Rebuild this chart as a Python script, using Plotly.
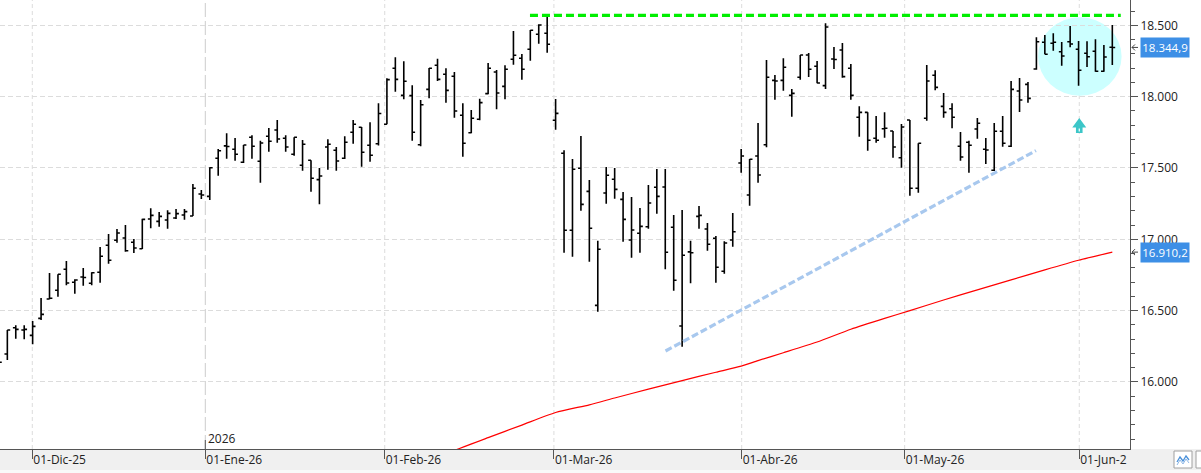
import plotly.graph_objects as go

# ---------------- data ----------------
bar_index = list(range(133))

opens = [16150, 16196, 16380, 16364, 16327, 16446, 16582, 16643, 16790, 16699,
         16736, 16692, 16769, 16958, 16993, 17009, 16979, 16934, 17142, 17126,
         17135, 17149, 17170, 17163, 17318, 17301, 17568, 17655, 17631, 17540,
         17715, 17547, 17722, 17766, 17708, 17596, 17519, 17554, 17418, 17647,
         17624, 17568, 17750, 17785, 17659, 17670, 17806, 18199, 18009, 18007,
         17663, 18051, 18220, 18157, 18143, 17869, 17747, 17841, 18021, 18173,
         18072, 18262, 18269, 18332, 18437, 18444, 17834, 17603, 17063, 17498,
         17336, 16537, 17325, 17421, 17280, 16995, 17042, 17088, 17365, 17367,
         17084, 16392, 16912, 17161, 17072, 17007, 16776, 16995, 17535, 17311,
         17584, 17663, 18114, 18114, 18009, 18136, 18292, 18213, 18077, 18264,
         18327, 18199, 17855, 17890, 17708, 17775, 17759, 17572, 17836, 17358,
         17848, 18150, 17932, 17915, 17652, 17680, 17773, 17631, 17484, 17757,
         17652, 18040, 18086, 18194, 18381, 18374, 18315, 18385, 18332, 18304,
         18318, 18178, 18346]

highs = [16180, 16364, 16397, 16397, 16427, 16589, 16764, 16755, 16848, 16720,
         16799, 16769, 16946, 17037, 17072, 17100, 17002, 17144, 17217, 17191,
         17203, 17212, 17212, 17388, 17346, 17505, 17633, 17743, 17710, 17661,
         17729, 17691, 17780, 17836, 17729, 17715, 17696, 17554, 17500, 17701,
         17647, 17722, 17836, 17787, 17820, 17953, 18128, 18276, 18248, 18079,
         17976, 18201, 18266, 18199, 18173, 17953, 17906, 17986, 18236, 18187,
         18220, 18460, 18299, 18467, 18507, 18560, 17983, 17624, 17563, 17724,
         17416, 16990, 17507, 17500, 17332, 17297, 17219, 17381, 17493, 17493,
         17170, 17205, 16990, 17233, 17114, 17023, 16986, 17184, 17633, 17563,
         17815, 18257, 18152, 18269, 18053, 18292, 18306, 18250, 18514, 18348,
         18376, 18229, 17932, 17890, 17864, 17890, 17759, 17808, 17836, 17673,
         18222, 18185, 18025, 17953, 17752, 17691, 17850, 17710, 17815, 17864,
         18110, 18131, 18103, 18416, 18432, 18444, 18383, 18495, 18390, 18388,
         18402, 18362, 18502]

lows = [16100, 16154, 16303, 16299, 16264, 16434, 16580, 16598, 16678, 16619,
        16675, 16678, 16696, 16829, 16976, 16913, 16904, 16932, 17077, 17088,
        17074, 17142, 17137, 17163, 17283, 17276, 17446, 17565, 17551, 17535,
        17565, 17397, 17614, 17677, 17614, 17586, 17481, 17334, 17245, 17488,
        17481, 17563, 17670, 17509, 17544, 17657, 17806, 18035, 17981, 17691,
        17652, 17988, 18110, 17958, 17852, 17579, 17743, 17834, 18016, 17911,
        17981, 18224, 18119, 18252, 18371, 18308, 17768, 16906, 16878, 17200,
        16843, 16493, 17250, 17285, 16983, 16871, 16906, 17074, 17180, 16790,
        16640, 16247, 16692, 17074, 16920, 16696, 16759, 16948, 17467, 17235,
        17397, 17645, 17978, 18042, 17859, 18119, 18138, 18093, 18053, 18194,
        18133, 17978, 17719, 17621, 17677, 17712, 17572, 17502, 17306, 17327,
        17831, 18044, 17852, 17778, 17551, 17467, 17705, 17528, 17479, 17649,
        17647, 17892, 17958, 18189, 18297, 18322, 18217, 18346, 18077, 18208,
        18175, 18175, 18222]

closes = [16138, 16364, 16369, 16369, 16390, 16474, 16587, 16755, 16694, 16715,
          16732, 16766, 16881, 16853, 17044, 16920, 16939, 17140, 17168, 17161,
          17182, 17180, 17194, 17358, 17311, 17502, 17621, 17650, 17596, 17661,
          17652, 17675, 17687, 17703, 17647, 17715, 17666, 17428, 17444, 17666,
          17549, 17680, 17806, 17610, 17589, 17882, 18119, 18121, 18108, 17750,
          17943, 18199, 18121, 18044, 17899, 17673, 17848, 17958, 18199, 18025,
          18192, 18290, 18192, 18465, 18502, 18367, 17883, 17063, 17491, 17245,
          17077, 16930, 17449, 17350, 17140, 17065, 17091, 17254, 17301, 16909,
          16713, 16888, 16906, 17168, 16965, 16804, 16974, 17053, 17584, 17561,
          17451, 18136, 18110, 18206, 18023, 18292, 18192, 18096, 18488, 18260,
          18140, 18009, 17890, 17694, 17694, 17778, 17647, 17787, 17358, 17673,
          18110, 18065, 17890, 17855, 17577, 17659, 17813, 17626, 17757, 17673,
          18051, 17976, 17988, 18385, 18297, 18381, 18285, 18369, 18185, 18280,
          18178, 18278, 18344.9]

# moving average (red line), read at selected bars
ma_index = [50, 54, 58, 62, 66, 70, 73, 77, 81, 85, 88, 90, 93, 97, 101, 105,
            108, 112, 116, 120, 124, 128, 132]
ma_values = [15420, 15520, 15610, 15698, 15786, 15840, 15888, 15950, 16010,
             16068, 16111, 16150, 16205, 16280, 16370, 16446, 16500, 16575,
             16646, 16716, 16786, 16853, 16910.2]

# month labels (bar-index positions of month starts)
month_pos = [3.96, 24.47, 45.74, 65.8, 88.06, 107.38, 128.08]
month_labels = ["01-Dic-25", "01-Ene-26", "01-Feb-26", "01-Mar-26",
                "01-Abr-26", "01-May-26", "01-Jun-2"]
year_label = "2026"
year_pos = 24.47

# drawn studies
resistance_level = 18570
resistance_from, resistance_to = 62.96, 133.0
support_x = [79.03, 122.95]
support_y = [16217, 17622]

# ---------------- layout constants ----------------
W, H = 1201, 473
PW, PH = 1130, 449
X_RANGE = [0.1304, 134.096]
Y_RANGE = [15530.3, 18677.3]
PPP = (Y_RANGE[1] - Y_RANGE[0]) / PH     # price per pixel
XPP = (X_RANGE[1] - X_RANGE[0]) / PW     # index per pixel

GRID = "#dcdcdc"
AX = "#555555"
TXT = "#222222"
FONT = "Open Sans"


def fmt_es(v, dec=0):
    s = f"{v:,.{dec}f}"
    return s.replace(",", "X").replace(".", ",").replace("X", ".")


fig = go.Figure()

# red moving average
fig.add_trace(go.Scatter(x=ma_index, y=ma_values, mode="lines",
                         line=dict(color="#ff0000", width=1.2, shape="spline", smoothing=0.6),
                         hoverinfo="skip", showlegend=False))
# support trend line
fig.add_trace(go.Scatter(x=support_x, y=support_y, mode="lines",
                         line=dict(color="#a8c8ee", width=3.2, dash="7px,3px"),
                         hoverinfo="skip", showlegend=False))
# OHLC bars
fig.add_trace(go.Ohlc(x=bar_index, open=opens, high=highs, low=lows, close=closes,
                      increasing=dict(line=dict(color="#000000", width=1.6)),
                      decreasing=dict(line=dict(color="#000000", width=1.6)),
                      tickwidth=0.34, showlegend=False, hoverinfo="skip"))
# resistance line
fig.add_trace(go.Scatter(x=[resistance_from, resistance_to],
                         y=[resistance_level, resistance_level], mode="lines",
                         line=dict(color="#00ee00", width=3.2, dash="8px,4px"),
                         hoverinfo="skip", showlegend=False))

shapes = []
# cyan highlight ellipse (below grid)
shapes.append(dict(type="circle", xref="x", yref="y",
                   x0=123.2, x1=133.1, y0=18007, y1=18556,
                   fillcolor="#ccffff", line=dict(width=0), layer="below"))
# vertical month grid lines
for p in month_pos:
    if p == year_pos:
        shapes.append(dict(type="line", xref="x", yref="paper", x0=p, x1=p, y0=0, y1=1,
                           line=dict(color="#cccccc", width=1, dash="14px,4px"), layer="below"))
    else:
        shapes.append(dict(type="line", xref="x", yref="paper", x0=p, x1=p, y0=0, y1=1,
                           line=dict(color=GRID, width=1, dash="4px,3px"), layer="below"))
# year tick above axis
shapes.append(dict(type="line", xref="x", yref="paper", x0=year_pos, x1=year_pos,
                   y0=0, y1=9 / PH, line=dict(color=AX, width=1)))
# bottom gray strip
shapes.append(dict(type="rect", xref="paper", yref="paper", x0=0, x1=W / PW,
                   y0=-(H - PH) / PH, y1=0, fillcolor="#f0f0f0",
                   line=dict(width=0), layer="below"))
shapes.append(dict(type="rect", xref="paper", yref="paper", x0=0, x1=W / PW,
                   y0=-(H - PH) / PH, y1=-(470 - PH) / PH, fillcolor="#f9f9f9",
                   line=dict(width=0), layer="below"))
# bottom-right button
shapes.append(dict(type="rect", xref="paper", yref="paper", x0=1174 / PW, x1=1192 / PW,
                   y0=-(468 - PH) / PH, y1=-(451 - PH) / PH, fillcolor="#ffffff",
                   line=dict(color="#a0a0a0", width=1)))
zz = [(1177, 462), (1180, 457), (1183, 461), (1186, 456), (1189, 460)]
path = "M " + " L ".join(f"{x / PW},{-(y - PH) / PH}" for x, y in zz)
shapes.append(dict(type="path", xref="paper", yref="paper", path=path,
                   line=dict(color="#4a90d9", width=1.3)))
zz2 = [(1177, 465), (1180, 460), (1183, 464), (1186, 459), (1189, 463)]
path2 = "M " + " L ".join(f"{x / PW},{-(y - PH) / PH}" for x, y in zz2)
shapes.append(dict(type="path", xref="paper", yref="paper", path=path2,
                   line=dict(color="#8fb8e6", width=1)))
shapes.append(dict(type="rect", xref="paper", yref="paper", x0=1196 / PW, x1=1210 / PW,
                   y0=-(468 - PH) / PH, y1=-(451 - PH) / PH, fillcolor="#ffffff",
                   line=dict(color="#a0a0a0", width=1)))

# cyan up arrow
tip_x = 128.08
tip_y = 17850
head_y = 17784
base_y = 17745
hw = 7 * XPP
sw = 3.3 * XPP
arrow_path = (f"M {tip_x},{tip_y} L {tip_x + hw},{head_y} L {tip_x + sw},{head_y} "
              f"L {tip_x + sw},{base_y} L {tip_x - sw},{base_y} L {tip_x - sw},{head_y} "
              f"L {tip_x - hw},{head_y} Z")
shapes.append(dict(type="path", xref="x", yref="y", path=arrow_path,
                   fillcolor="#3cc6c8", line=dict(width=0), layer="above"))
shapes.append(dict(type="line", xref="x", yref="y", x0=tip_x, x1=tip_x,
                   y0=base_y + 1.5 * PPP, y1=head_y - 1 * PPP,
                   line=dict(color="#ffffff", width=1.2), layer="above"))

# small left arrows beside the price boxes
for val in [closes[-1], ma_values[-1]]:
    shapes.append(dict(type="line", xref="paper", yref="y", x0=1132 / PW, x1=1138 / PW,
                       y0=val, y1=val, line=dict(color="#444444", width=1)))
    chev = (f"M {1135 / PW},{val + 3 * PPP} L {1132 / PW},{val} "
            f"L {1135 / PW},{val - 3 * PPP}")
    shapes.append(dict(type="path", xref="paper", yref="y", path=chev,
                       line=dict(color="#444444", width=1)))

annotations = []
# year label
annotations.append(dict(x=year_pos, xref="x", y=0, yref="paper", xanchor="left",
                        yanchor="bottom", xshift=1, yshift=0, text=year_label,
                        showarrow=False, font=dict(family=FONT, size=12, color=TXT)))
# price boxes
for val, txt in [(closes[-1], fmt_es(closes[-1], 1)), (ma_values[-1], fmt_es(ma_values[-1], 1))]:
    annotations.append(dict(x=1140 / PW, xref="paper", y=val, yref="y",
                            xanchor="left", yanchor="middle", text=txt,
                            showarrow=False, bgcolor="#3d8fe6", borderpad=1,
                            width=46, height=17, align="center",
                            font=dict(family=FONT, size=11.5, color="#ffffff")))

fig.update_layout(
    width=W, height=H,
    margin=dict(l=0, r=W - PW, t=0, b=H - PH, pad=0),
    paper_bgcolor="#ffffff", plot_bgcolor="#ffffff",
    separators=",.",
    showlegend=False,
    shapes=shapes, annotations=annotations,
    font=dict(family=FONT, size=12, color=TXT),
    xaxis=dict(range=X_RANGE, type="linear", rangeslider=dict(visible=False),
               tickmode="array", tickvals=month_pos, ticktext=month_labels,
               ticks="outside", ticklen=9, tickcolor=AX, tickwidth=1,
               ticklabelposition="outside right",
               tickfont=dict(family=FONT, size=12, color=TXT),
               showgrid=False, zeroline=False, showline=True,
               linecolor=AX, linewidth=1, automargin=False, fixedrange=True),
    yaxis=dict(range=Y_RANGE, side="right", tickmode="linear", tick0=0, dtick=500,
               tickformat=",.0f", ticks="outside", ticklen=7, tickcolor=AX,
               tickfont=dict(family=FONT, size=12, color=TXT),
               minor=dict(tickmode="linear", tick0=0, dtick=100, ticks="outside",
                          ticklen=4, tickcolor=AX, showgrid=False),
               showgrid=True, gridcolor=GRID, griddash="5px,3px", gridwidth=1,
               zeroline=False, showline=True, linecolor=AX, linewidth=1,
               automargin=False, fixedrange=True),
)

fig.write_html("out.html")
